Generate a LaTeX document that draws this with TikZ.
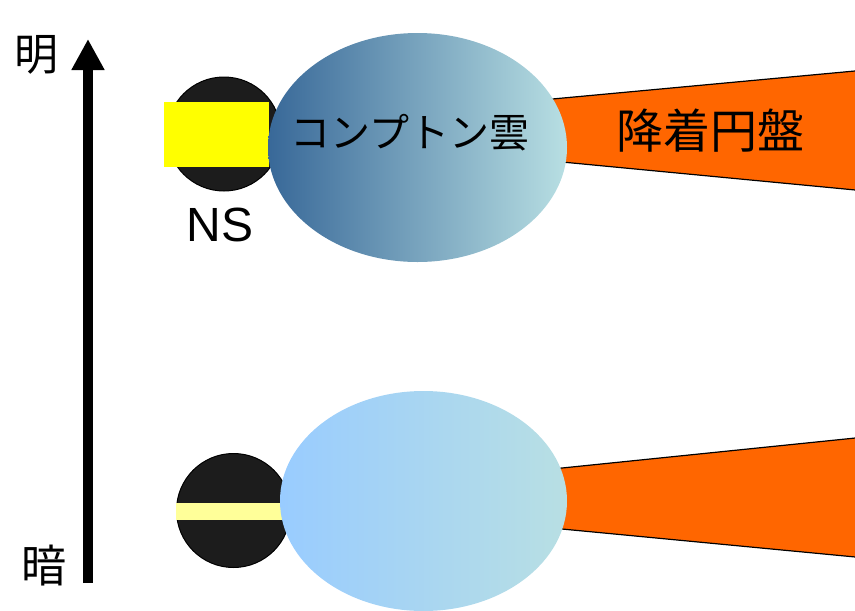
\documentclass[tikz,border=0pt]{standalone}
\usepackage{fontspec}
\setmainfont{Liberation Sans}
\newfontfamily\jpfont{Noto Sans CJK JP}
\usetikzlibrary{shapes.geometric,arrows.meta}

\definecolor{nsgray}{HTML}{1C1C1C}
\definecolor{diskorange}{HTML}{FF6600}
\definecolor{coronadark}{HTML}{386898}
\definecolor{coronapale}{HTML}{B8DFE3}
\definecolor{coronalight}{HTML}{99CCFF}
\definecolor{columnbright}{HTML}{FFFF00}
\definecolor{columnpale}{HTML}{FFFF99}

\begin{document}
\begin{tikzpicture}[x=1pt, y=-1pt,
      neutron/.style ={circle, draw, line width=1pt, fill=nsgray, minimum size=114pt, inner sep=0pt},
      column/.style ={rectangle, inner sep=0pt},
      corona/.style ={ellipse, inner sep=0pt},
      disc/.style ={fill=diskorange},
      discedge/.style ={line width=1.2pt},
      jp/.style ={font=\jpfont, inner sep=0pt}]

   \clip (0,0) rectangle (855,611);

   % bright state
   \coordinate (Da) at (520,102);
   \coordinate (Db) at (870,69.6);
   \coordinate (Dc) at (870,191.4);
   \coordinate (Dd) at (520,158);
   \fill[disc] (Da) -- (Db) -- (Dc) -- (Dd) -- cycle;
   \draw[discedge] (Da) -- (Db);
   \draw[discedge] (Dd) -- (Dc);

   \node[neutron] (NSa)  at (224,134)  {};
   \node[column, fill=columnbright, minimum width=105pt, minimum height=65pt] (Pa)  at (216.5,134.5)  {};
   \node[corona, minimum width=299pt, minimum height=229pt,
         left color=coronadark, right color=coronapale] (Ca)  at (417.5,147.5)  {};

   \node[jp, font=\jpfont\fontsize{40}{40}\selectfont] (Tc)  at (410,133)  {コンプトン雲};
   \node[jp, font=\jpfont\fontsize{47}{47}\selectfont] (Td)  at (710,131)  {降着円盤};
   \node[font=\fontsize{48}{48}\selectfont, inner sep=0pt] (Tn)  at (220,225)  {NS};

   % dim state
   \coordinate (Ea) at (520,472.3);
   \coordinate (Eb) at (870,436.5);
   \coordinate (Ec) at (870,558.4);
   \coordinate (Ed) at (520,525);
   \fill[disc] (Ea) -- (Eb) -- (Ec) -- (Ed) -- cycle;
   \draw[discedge] (Ea) -- (Eb);
   \draw[discedge] (Ed) -- (Ec);

   \node[neutron] (NSb)  at (233.5,510.5)  {};
   \node[column, fill=columnpale, minimum width=124pt, minimum height=17pt] (Pb)  at (238,511.5)  {};
   \node[corona, minimum width=287pt, minimum height=220pt,
         left color=coronalight, right color=coronapale] (Cb)  at (423.5,501)  {};

   % brightness axis
   \coordinate (dark)  at (88,583);
   \coordinate (bright)  at (88,39);
   \draw[line width=10pt, -{Triangle[width=31pt,length=31pt]}] (dark) to (bright);
   \node[jp, font=\jpfont\fontsize{44}{44}\selectfont] (Lb)  at (37,55)  {明};
   \node[jp, font=\jpfont\fontsize{45}{45}\selectfont] (Ld)  at (44,566)  {暗};
 \end{tikzpicture}
\end{document}
